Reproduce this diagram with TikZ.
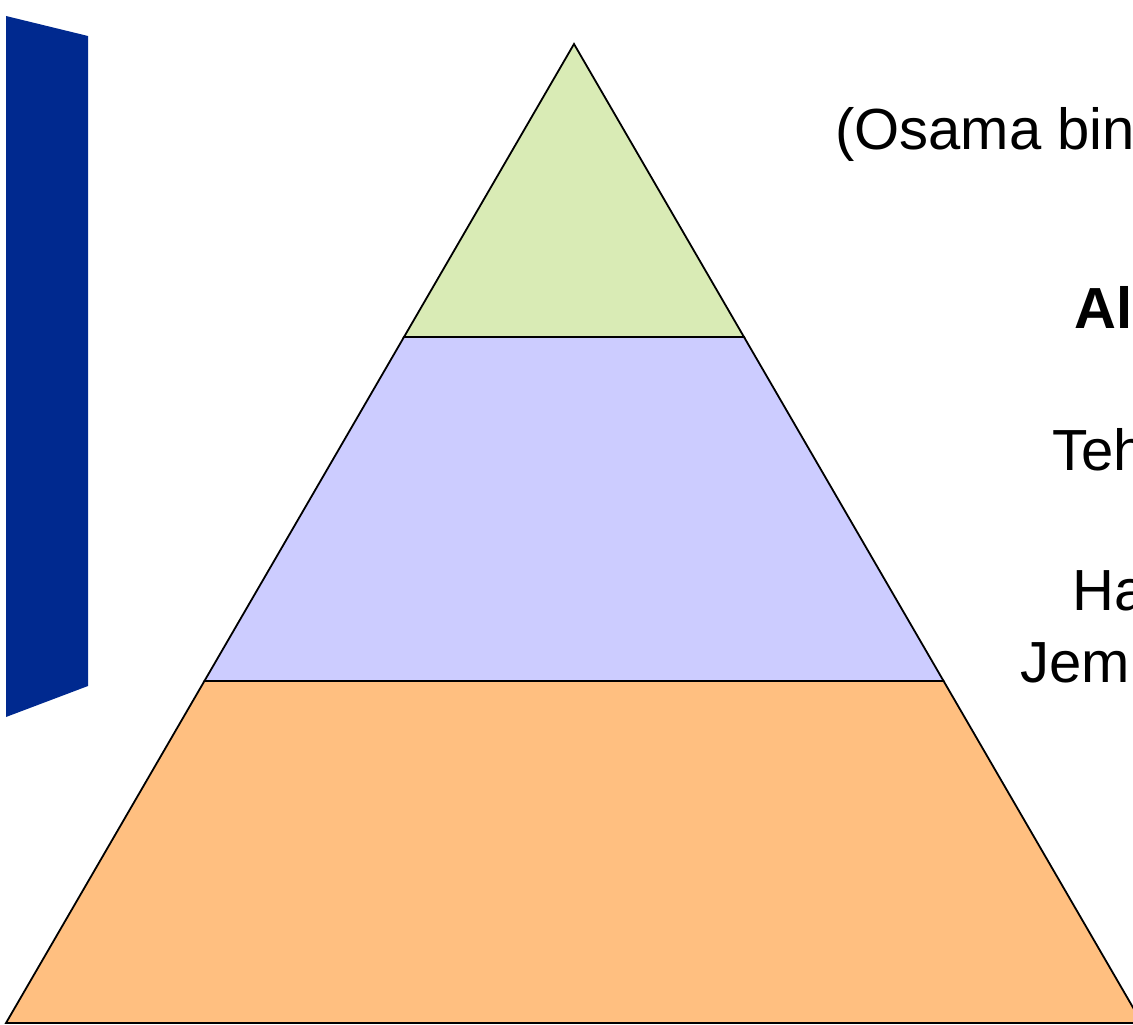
\documentclass[tikz,border=0pt]{standalone}
\usepackage{fontspec}
\setmainfont{Liberation Sans}
\usepackage{tikz}
\usetikzlibrary{calc}
\definecolor{barblue}{rgb}{0.0, 0.16, 0.56}
\definecolor{pastelgreen}{rgb}{0.85, 0.92, 0.71}
\definecolor{pastellilac}{rgb}{0.80, 0.80, 1.00}
\definecolor{pastelorange}{rgb}{1.00, 0.75, 0.50}
\tikzset{
  capa/.style={
    draw=black,
    line width=1.8pt,
    line join=miter
  },
  rotulo/.style={
    anchor=base west,
    inner sep=0pt,
    font=\fontsize{58}{68}\selectfont
  }
}

\begin{document}
\begin{tikzpicture}[x=1pt,y=-1pt]
\useasboundingbox (0,0) rectangle (1133,1025);
% corners of the pyramid
\coordinate (top) at (574,44);
\coordinate (bl) at (6,1023);
\coordinate (br) at (1142,1023);
\coordinate (l1) at ($(top)!0.2993!(bl)$);
\coordinate (r1) at ($(top)!0.2993!(br)$);
\coordinate (l2) at ($(top)!0.6507!(bl)$);
\coordinate (r2) at ($(top)!0.6507!(br)$);
% layers
\draw[capa, fill=pastelorange] (l2) -- (r2) -- (br) -- (bl) -- cycle;
\draw[capa, fill=pastellilac] (l1) -- (r1) -- (r2) -- (l2) -- cycle;
\draw[capa, fill=pastelgreen] (top) -- (r1) -- (l1) -- cycle;
% side bar
\fill[barblue] (6,16) -- (88,36) -- (88,686) -- (6,717) -- cycle;
% labels
\node[rotulo] (lider) at (835,149) {(Osama bin};
\node[rotulo, font=\fontsize{58}{68}\selectfont\bfseries] (alq) at (1074,328) {Al};
\node[rotulo] (teh) at (1052,470) {Teh};
\node[rotulo] (ha) at (1072,610) {Ha};
\node[rotulo] (jem) at (1020,682) {Jem};
\end{tikzpicture}
\end{document}
